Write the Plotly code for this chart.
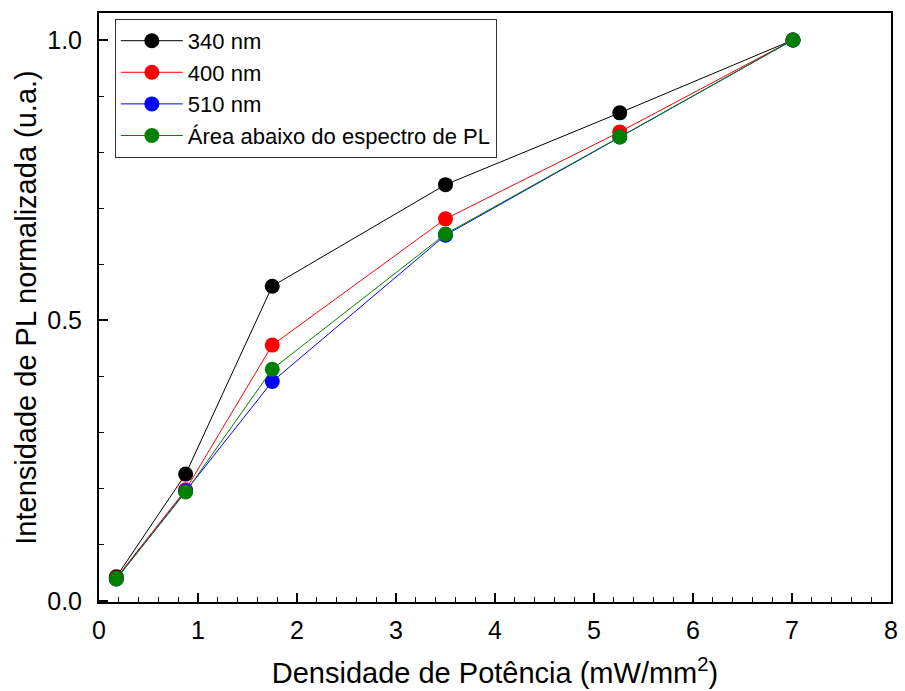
import plotly.graph_objects as go

x_vals = [0.175, 0.875, 1.75, 3.5, 5.26, 7.01]
y_340 = [0.043, 0.226, 0.561, 0.742, 0.870, 1.0]
y_400 = [0.041, 0.198, 0.456, 0.681, 0.836, 1.0]
y_510 = [0.039, 0.196, 0.391, 0.652, 0.827, 1.0]
y_area = [0.039, 0.194, 0.413, 0.654, 0.827, 1.0]

names = ["340 nm", "400 nm", "510 nm", "Área abaixo do espectro de PL"]
colors = ["#000000", "#ff0000", "#0000ff", "#008000"]
series = [y_340, y_400, y_510, y_area]

fig = go.Figure()
for n, c, ys in zip(names, colors, series):
    fig.add_trace(go.Scatter(
        x=x_vals, y=ys, name=n, mode="lines+markers",
        line=dict(color=c, width=1),
        marker=dict(color=c, size=15),
    ))

font = "Liberation Sans, Arial, sans-serif"
fig.update_layout(
    width=905, height=691,
    margin=dict(l=99, r=7, t=13, b=89),
    paper_bgcolor="white", plot_bgcolor="white",
    font=dict(family=font, color="black", size=25),
    showlegend=True,
    legend=dict(
        x=0.02, y=0.99, xanchor="left", yanchor="top",
        bordercolor="#333333", borderwidth=1, bgcolor="white",
        font=dict(size=22, family=font), itemwidth=62,
    ),
    xaxis=dict(
        range=[0, 8], dtick=1, tick0=0,
        showgrid=False, zeroline=False,
        showline=True, linecolor="black", linewidth=2, mirror=True,
        ticks="inside", ticklen=9, tickwidth=2, tickcolor="black",
        minor=dict(dtick=0.2, ticks="inside", ticklen=5, tickwidth=1, tickcolor="black"),
        title=dict(text="Densidade de Potência (mW/mm<sup>2</sup>)", font=dict(size=29), standoff=20),
        tickfont=dict(size=25), ticklabelstandoff=5,
    ),
    yaxis=dict(
        range=[-0.002, 1.048], dtick=0.5, tick0=0, tickformat=".1f",
        showgrid=False, zeroline=False,
        showline=True, linecolor="black", linewidth=2, mirror=True,
        ticks="inside", ticklen=9, tickwidth=2, tickcolor="black",
        minor=dict(dtick=0.1, ticks="inside", ticklen=5, tickwidth=1, tickcolor="black"),
        title=dict(text="Intensidade de PL normalizada (u.a.)", font=dict(size=29), standoff=2),
        tickfont=dict(size=25), ticklabelstandoff=10,
    ),
)

fig.write_html("out.html")
